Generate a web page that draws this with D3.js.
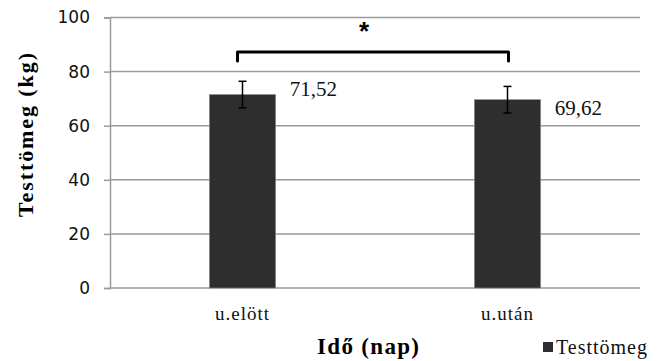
<!DOCTYPE html>
<html>
<head>
<meta charset="utf-8">
<script src="https://cdn.jsdelivr.net/npm/d3@7"></script>
<style>
  body { margin: 0; background: #fff; }
  svg { display: block; }
</style>
</head>
<body>
<div id="chart"></div>
<script>
let categories = ['u.elött', 'u.után'];
let values = [71.52, 69.62];
let errors = [4.9, 4.9];
let valueLabels = ['71,52', '69,62'];
let yTicks = [0, 20, 40, 60, 80, 100];
let seriesName = 'Testtömeg';

let SERIF = "'Liberation Serif'";
let SANS = "'DejaVu Sans'";

let sizes = {width: 661, height: 361, left: 110, right: 640, top: 17.5, bottom: 288};
let labelDy = [1.5, 15]; // excel put the two data labels at different heights

let svg = d3.select('#chart')
    .append('svg')
    .attr('width', sizes.width)
    .attr('height', sizes.height);

let x = d3.scaleBand()
    .domain(categories)
    .range([sizes.left, sizes.right])
    .paddingInner(0.75)
    .paddingOuter(0.375);

let y = d3.scaleLinear()
    .domain([0, 100])
    .range([sizes.bottom, sizes.top]);

// y axis with ticks
let yAxis = svg.append('g')
    .attr('transform', 'translate(' + sizes.left + ',0)')
    .call(d3.axisLeft(y).tickValues(yTicks).tickSize(6).tickPadding(14));
yAxis.select('.domain').attr('stroke', '#9a9a9a').attr('stroke-width', 1.5);
yAxis.selectAll('.tick line').attr('stroke', '#9a9a9a').attr('stroke-width', 1.5);
yAxis.selectAll('.tick text')
    .style('font-family', SANS)
    .style('font-size', '17px')
    .attr('fill', '#111');

// gridlines
svg.append('g')
    .selectAll('line')
    .data(yTicks)
    .enter().append('line')
    .attr('x1', sizes.left)
    .attr('x2', sizes.right)
    .attr('y1', d => y(d))
    .attr('y2', d => y(d))
    .attr('stroke', '#9a9a9a')
    .attr('stroke-width', 1.5);

// bars
svg.append('g')
    .selectAll('rect')
    .data(values)
    .enter().append('rect')
    .attr('x', (d, i) => x(categories[i]))
    .attr('width', x.bandwidth())
    .attr('y', d => y(d))
    .attr('height', d => y(0) - y(d))
    .attr('fill', '#2e2e2e')
    .attr('stroke', '#8a8a8a')
    .attr('stroke-width', 0.6);

// error bars
let eb = svg.append('g').attr('stroke', '#000').attr('stroke-width', 1.5);
values.forEach(function (v, i) {
    let cx = x(categories[i]) + x.bandwidth() / 2;
    eb.append('line').attr('x1', cx).attr('x2', cx).attr('y1', y(v + errors[i])).attr('y2', y(v - errors[i]));
    eb.append('line').attr('x1', cx - 4).attr('x2', cx + 4).attr('y1', y(v + errors[i])).attr('y2', y(v + errors[i]));
    eb.append('line').attr('x1', cx - 4).attr('x2', cx + 4).attr('y1', y(v - errors[i])).attr('y2', y(v - errors[i]));
});

// value labels
svg.append('g')
    .selectAll('text')
    .data(valueLabels)
    .enter().append('text')
    .attr('x', (d, i) => x(categories[i]) + x.bandwidth() + 14)
    .attr('y', (d, i) => y(values[i]) + labelDy[i])
    .style('font-family', SERIF)
    .style('font-size', '21px')
    .attr('fill', '#111')
    .text(d => d);

// significance bracket
let bx1 = x(categories[0]) + x.bandwidth() / 2 - 5;
let bx2 = x(categories[1]) + x.bandwidth() / 2 + 1;
let by = 52, bdrop = 9;
svg.append('path')
    .attr('d', 'M' + bx1 + ',' + (by + bdrop) + ' L' + bx1 + ',' + by + ' L' + bx2 + ',' + by + ' L' + bx2 + ',' + (by + bdrop))
    .attr('fill', 'none')
    .attr('stroke', '#000')
    .attr('stroke-width', 3)
    .attr('stroke-linejoin', 'round')
    .attr('stroke-linecap', 'round');
svg.append('text')
    .attr('x', 364)
    .attr('y', 40)
    .attr('text-anchor', 'middle')
    .style('font-family', "'Liberation Sans'")
    .style('font-weight', 'bold')
    .style('font-size', '26px')
    .text('*');

// x tick labels
svg.append('g')
    .selectAll('text')
    .data(categories)
    .enter().append('text')
    .attr('x', d => x(d) + x.bandwidth() / 2)
    .attr('y', 320)
    .attr('text-anchor', 'middle')
    .style('font-family', SERIF)
    .style('font-size', '19px')
    .style('letter-spacing', '1px')
    .attr('fill', '#111')
    .text(d => d);

// axis titles
svg.append('text')
    .attr('x', 368)
    .attr('y', 354)
    .attr('text-anchor', 'middle')
    .attr('textLength', 102)
    .style('font-family', SERIF)
    .style('font-weight', 'bold')
    .style('font-size', '23px')
    .text('Idő (nap)');

svg.append('text')
    .attr('transform', 'translate(33,135) rotate(-90)')
    .attr('text-anchor', 'middle')
    .attr('textLength', 164)
    .style('font-family', SERIF)
    .style('font-weight', 'bold')
    .style('font-size', '22px')
    .text('Testtömeg (kg)');

// legend
svg.append('rect')
    .attr('x', 543).attr('y', 342)
    .attr('width', 10).attr('height', 10)
    .attr('fill', '#2e2e2e');
svg.append('text')
    .attr('x', 556)
    .attr('y', 354)
    .attr('textLength', 91)
    .style('font-family', SERIF)
    .style('font-size', '20px')
    .attr('fill', '#111')
    .text(seriesName);
</script>
</body>
</html>
